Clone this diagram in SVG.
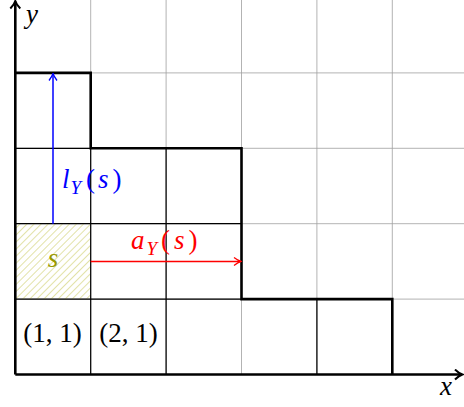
<svg xmlns="http://www.w3.org/2000/svg" width="464" height="407" viewBox="0 0 464 407">
<style>
.grid{stroke:#a0a0a0;stroke-width:0.8;fill:none}
.cell{stroke:#000;stroke-width:1.2;fill:none}
.thick{stroke:#000;stroke-width:2.6;fill:none;stroke-linejoin:miter}
.lbl{font-family:"Liberation Serif","DejaVu Serif",serif;font-size:27px}
.it{font-style:italic}
</style>
<defs>
<pattern id="hatch" patternUnits="userSpaceOnUse" width="5" height="5" patternTransform="rotate(-45)">
<line x1="0" y1="2.5" x2="5" y2="2.5" stroke="#e2e2a8" stroke-width="1"/>
</pattern>
<marker id="arrB" viewBox="0 0 10 10" refX="9" refY="5" markerWidth="10" markerHeight="10" markerUnits="userSpaceOnUse" orient="auto">
<path d="M2,1 Q6,4 9,5 Q6,6 2,9" fill="none" stroke="#0000ff" stroke-width="1.3"/>
</marker>
<marker id="arrR" viewBox="0 0 10 10" refX="9" refY="5" markerWidth="10" markerHeight="10" markerUnits="userSpaceOnUse" orient="auto">
<path d="M2,1 Q6,4 9,5 Q6,6 2,9" fill="none" stroke="#ff0000" stroke-width="1.3"/>
</marker>
<marker id="arrK" viewBox="0 0 12 12" refX="10" refY="6" markerWidth="12" markerHeight="12" markerUnits="userSpaceOnUse" orient="auto">
<path d="M3,1 Q7,5 10.5,6 Q7,7 3,11" fill="none" stroke="#000" stroke-width="2"/>
</marker>
</defs>
<g id="grid">
<path class="grid" d="M90.7,0V375M166.1,0V375M241.5,0V375M316.9,0V375M392.3,0V375M15.3,72.9H464M15.3,148.3H464M15.3,223.7H464M15.3,299.1H464"/>
</g>
<g id="cells">
<rect x="15.3" y="223.7" width="75.4" height="75.4" fill="url(#hatch)"/>
<path class="cell" d="M15.3,299.1H392.3M15.3,223.7H241.5M15.3,148.3H241.5M90.7,72.9V374.5M166.1,148.3V374.5M316.9,299.1V374.5"/>
</g>
<g id="outline">
<path class="thick" d="M15.3,72.9H90.7V148.3H241.5V299.1H392.3V374.5"/>
</g>
<g id="axes">
<line class="thick" x1="15.3" y1="374.5" x2="462" y2="374.5" marker-end="url(#arrK)"/>
<line class="thick" x1="15.3" y1="374.5" x2="15.3" y2="1.5" marker-end="url(#arrK)"/>
<text class="lbl it" x="26" y="23" font-size="23">y</text>
<text class="lbl it" x="440" y="395" font-size="25">x</text>
</g>
<g id="connectors">
<line x1="53" y1="223.7" x2="53" y2="73.5" stroke="#0000ff" stroke-width="1.5" marker-end="url(#arrB)"/>
<line x1="90.7" y1="261.4" x2="241" y2="261.4" stroke="#ff0000" stroke-width="1.5" marker-end="url(#arrR)"/>
</g>
<g id="node-s">
<text class="lbl it" x="53" y="267" text-anchor="middle" fill="#999900">s</text>
</g>
<g id="labels">
<text class="lbl" x="52.5" y="342" text-anchor="middle" font-size="20">(1, 1)</text>
<text class="lbl" x="128.5" y="342" text-anchor="middle" font-size="20">(2, 1)</text>
<text class="lbl" x="62" y="188" fill="#0000ff"><tspan class="it">l</tspan><tspan class="it" font-size="19" dx="1" dy="6">Y</tspan><tspan dx="5" dy="-6">(</tspan><tspan class="it" dx="3">s</tspan><tspan dx="4">)</tspan></text>
<text class="lbl" x="131" y="249" fill="#ff0000"><tspan class="it">a</tspan><tspan class="it" font-size="19" dx="2" dy="6">Y</tspan><tspan dx="4" dy="-6">(</tspan><tspan class="it" dx="4">s</tspan><tspan dx="4">)</tspan></text>
</g>
</svg>
